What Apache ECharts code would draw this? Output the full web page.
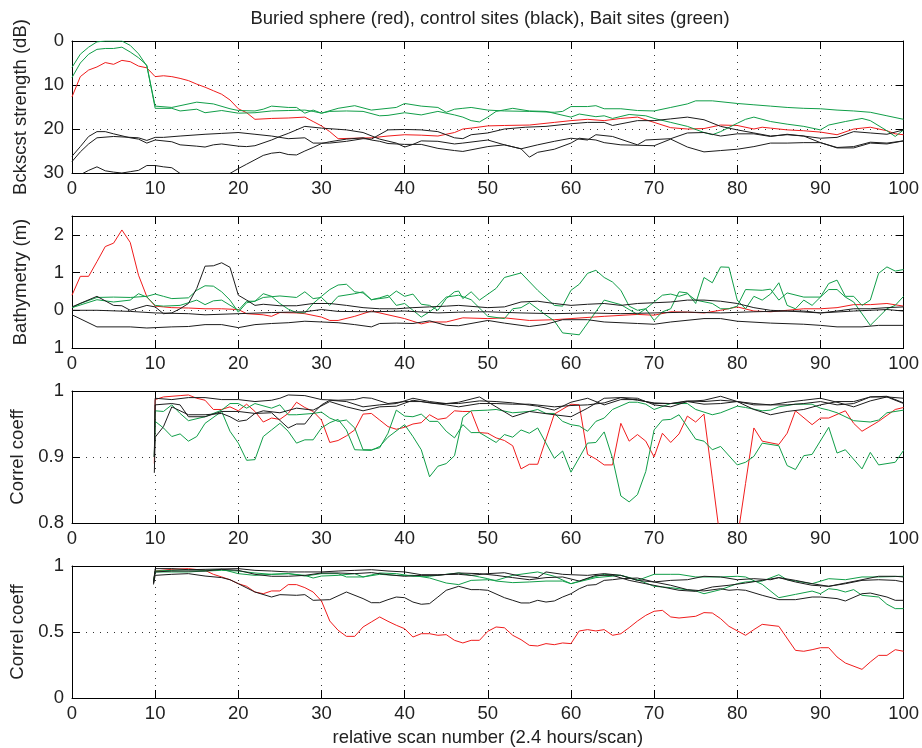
<!DOCTYPE html>
<html>
<head>
<meta charset="utf-8">
<script src="https://cdn.jsdelivr.net/npm/echarts@6/dist/echarts.min.js"></script>
<style>
  html, body { margin: 0; padding: 0; background: #fff; }
  #main { width: 922px; height: 748px; }
</style>
</head>
<body>
<div id="main"></div>
<script>
// ---- data: [scan number, value] ----

// panel 1: backscatter strength (dB)
const bsRed = [[0,12.7],[1,8.1],[2,6.6],[3,5.9],[4,4.9],[5,5.3],[6,4.4],[7,4.7],[8,5.7],[9,6.1],[10,8.1],[11,7.9],[12,8.1],[13,8.5],[14,9.0],[15,9.8],[16,10.5],[17,11.3],[18,12.1],[19,13.4],[20,15.4],[21,16.3],[22,17.8],[24,17.6],[26,17.5],[28,17.3],[29,18.3],[30,19.3],[31,20.6],[32,22.2],[34,22.1],[36,22.0],[38,21.6],[40,21.3],[42,21.4],[44,21.6],[46,20.8],[47,20.0],[48,19.8],[50,19.3],[52,19.2],[55,19.1],[58,18.5],[60,18.1],[62,17.8],[64,18.1],[66,17.6],[68,17.3],[70,18.5],[72,19.7],[74,20.0],[76,19.9],[78,19.1],[80,19.2],[82,20.0],[83,19.6],[84,19.8],[86,20.2],[88,20.4],[90,20.7],[92,21.3],[94,20.0],[96,19.6],[98,20.4],[99,21.1],[100,21.3]];
const bsGreenA = [[0,6.0],[1,3.0],[2,1.4],[3,0.2],[4,0],[5,0],[6,0],[7,1.0],[8,2.9],[9,5.7],[10,14.8],[12,15.1],[15,13.9],[17,14.3],[19,15.4],[20,15.8],[22,15.9],[23,15.5],[24,14.8],[26,15.1],[27,15.1],[28,16.4],[29,15.7],[30,16.4],[32,15.3],[34,14.7],[36,15.7],[38,15.3],[39,15.1],[40,14.2],[42,14.8],[44,15.1],[45,16.2],[46,15.5],[47,15.3],[48,15.1],[50,15.7],[52,15.9],[55,16.0],[58,16.2],[59,16.0],[60,14.9],[62,14.9],[63,14.7],[64,15.4],[66,15.4],[68,15.8],[70,15.9],[72,15.1],[74,14.3],[75,13.6],[77,13.6],[80,14.2],[82,14.5],[84,14.8],[86,15.1],[88,15.3],[90,15.4],[92,15.7],[94,15.9],[96,16.2],[98,17.0],[100,17.8]];
const bsGreenB = [[0,8.3],[1,5.0],[2,3.0],[3,1.9],[4,1.7],[5,1.7],[6,1.4],[7,2.5],[8,3.8],[9,5.5],[10,15.3],[12,15.3],[13,15.9],[15,15.5],[16,16.3],[18,15.8],[20,16.4],[22,16.3],[24,15.9],[26,15.8],[28,15.7],[29,16.0],[30,16.4],[31,16.0],[33,15.9],[35,16.0],[37,17.0],[38,16.9],[40,16.3],[42,16.8],[44,16.0],[46,16.8],[47,17.3],[48,18.1],[49,18.4],[50,17.3],[51,16.0],[53,15.3],[55,15.9],[57,16.0],[60,17.3],[61,16.6],[63,17.2],[64,17.0],[65,17.6],[67,16.7],[69,17.0],[70,17.6],[72,18.5],[74,19.4],[76,20.8],[77,21.3],[78,20.6],[80,18.7],[81,17.8],[82,17.3],[84,18.3],[86,18.9],[88,19.4],[90,20.2],[91,19.1],[93,18.3],[95,17.6],[96,18.1],[98,20.4],[99,21.7],[100,20.2]];
const bsBlack1 = [[0,26.2],[1,24.0],[2,21.7],[3,20.6],[4,20.6],[5,21.1],[7,22.0],[8,22.3],[9,23.2],[10,22.5],[12,22.9],[13,23.6],[15,23.9],[16,24.1],[17,23.6],[18,23.4],[20,23.9],[21,24.0],[22,23.8],[24,22.5],[25,21.7],[26,21.0],[27,20.2],[28,19.4],[30,19.8],[33,20.2],[35,20.8],[37,22.3],[39,23.2],[40,24.1],[41,23.5],[42,22.7],[44,22.8],[46,23.4],[47,23.2],[50,22.5],[52,23.6],[54,24.5],[56,23.6],[58,22.8],[60,22.1],[62,22.5],[63,21.3],[65,21.7],[68,23.6],[69,22.5],[72,22.2],[74,20.9],[76,20.8],[78,21.6],[80,21.1],[82,21.1],[84,21.7],[86,21.2],[88,21.6],[90,23.1],[92,24.2],[94,24.0],[96,23.0],[98,23.2],[100,22.7]];
const bsBlack2 = [[0,27.4],[1,25.2],[2,23.4],[3,22.0],[5,21.7],[8,22.0],[9,22.6],[10,21.9],[11,21.9],[13,21.6],[16,21.2],[18,21.0],[20,20.8],[22,21.2],[24,21.6],[26,22.2],[28,22.0],[29,23.2],[31,23.2],[33,22.8],[35,22.2],[36,22.3],[38,20.2],[40,20.1],[42,20.2],[44,20.6],[46,22.0],[47,22.2],[48,21.3],[50,20.9],[52,20.0],[54.5,19.6],[57,19.4],[60,18.8],[62,18.5],[64,18.5],[65,19.2],[68,18.1],[70,18.1],[72,17.7],[74,17.3],[76,17.9],[78,19.4],[80,20.2],[82,20.9],[84,21.6],[86,21.3],[88,21.6],[90,22.1],[92,21.9],[94,20.6],[96,20.9],[98,21.2],[100,20.2]];
const bsBlack3 = [[0,31],[1,30.4],[2,29.4],[3,28.6],[4,29.5],[5,29.8],[6,30],[7,29.7],[8,29.4],[9,28.3],[10,28.3],[11,28.6],[12,28.8],[13,30.1],[19,30.1],[20,29.0],[21,28.0],[22,27.0],[23,26.0],[24,25.5],[25,25.3],[26,25.8],[27,25.9],[28,25.0],[29,24.2],[30,23.3],[31,22.9],[32,22.6],[33,22.3],[35,22.0],[36,22.5],[37,22.8],[38,23.3],[40,23.5],[42,23.5],[44,24.4],[46,24.9],[47,25.1],[50,24.0],[52,23.6],[54,24.5],[55,26.4],[56,25.3],[58,24.6],[60,23.2],[61,22.1],[63,22.5],[64,23.1],[66,23.6],[68,23.7],[70,23.8],[72,22.3],[74,24.1],[76,25.2],[78,24.9],[80,24.6],[82,24.0],[84,23.2],[86,23.2],[88,23.1],[90,23.1],[92,24.3],[94,24.3],[96,23.2],[98,23.4],[100,22.7]];

// panel 2: bathymetry (m)
const bathRed = [[0,0.4],[1,0.9],[2,0.9],[3,1.29],[4,1.69],[5,1.78],[6,2.13],[7,1.8],[8,0.93],[9,0.36],[10,0.11],[11,0.09],[12,0.07],[14,0.06],[16,0.04],[18,0.04],[20,0.02],[21,-0.09],[23,-0.12],[24,-0.16],[25,-0.06],[27,-0.07],[28,-0.09],[30,-0.18],[31,-0.27],[32,-0.27],[34,-0.16],[36,-0.02],[38,-0.12],[40,-0.22],[42,-0.36],[43,-0.31],[45,-0.31],[47,-0.2],[50,-0.22],[52,-0.2],[55,-0.27],[58,-0.25],[60,-0.22],[64,-0.16],[68,-0.11],[70,-0.13],[72,-0.04],[74,-0.05],[76,-0.07],[78,0],[80,0.09],[82,-0.02],[84,-0.04],[86,0],[88,0.04],[90,0.04],[92,0.07],[94,0.15],[96,0.15],[98,0.18],[100,0.11]];
const bathGreenA = [[0,0.07],[1,0.18],[3,0.34],[5,0.35],[7,0.34],[9,0.37],[10,0.43],[11,0.37],[12,0.31],[14,0.33],[15,0.53],[16,0.65],[17,0.64],[18,0.49],[19,0.27],[20,-0.05],[21,0.2],[22,0.24],[23,0.44],[24,0.37],[25,0.18],[26,0.03],[27,-0.06],[28,-0.07],[29,0.18],[30,0.37],[31,0.55],[32,0.67],[33,0.69],[34,0.49],[35,0.46],[36,0.28],[37,0.33],[38,0.4],[39,0.13],[40,0.18],[41,0],[42,-0.18],[43,-0.04],[44,0.13],[45,0.35],[46.5,0.4],[48,0.28],[50,-0.16],[52,-0.22],[53,0.04],[54,0.07],[55,0.2],[57,-0.13],[58,-0.28],[59,-0.6],[61,-0.65],[64,0.27],[66,0.15],[67,0.02],[68,-0.11],[69,0.04],[71,0.4],[72,0.43],[73,0.37],[74,0.44],[75,0.27],[77,0.18],[78,0.04],[79,0.04],[80,0.11],[81,0.55],[83,0.53],[84,0.56],[85,0.27],[86,0.46],[88,0.35],[90,0.35],[91,0.55],[92,0.55],[93,0.35],[94,0.22],[96,-0.4],[97,-0.18],[98,0.04],[99,0.13],[100,0.37]];
const bathGreenB = [[0,0.07],[3,0.28],[5,0.22],[7,0.27],[8,0.44],[9,0.35],[10,0.13],[11,0.11],[13,0.13],[15,0.27],[16,0.15],[17,0.25],[18,0.27],[20,0],[21,0.24],[22,0.24],[23,0.34],[25,0.38],[27,0.34],[28,0.49],[29,0.31],[30,0.34],[31,0.13],[32,0.37],[34,0.44],[35,0.49],[36,0.28],[38,0.34],[39,0.51],[40,0.37],[41,0.43],[42,0.16],[43,0.13],[44,0],[45,0.31],[46,0.49],[46.5,0.51],[47,0.31],[48,0.49],[49,0.27],[51,0.58],[52,0.87],[54,0.99],[56,0.53],[58,0.13],[59,0.11],[60,0.53],[61,0.69],[62,0.98],[63,1.06],[64,0.87],[65,0.75],[66,0.53],[67,0.11],[68,0],[69,0.04],[70,-0.27],[71,-0.04],[72,0.04],[73,0.49],[74,0.46],[75,0.18],[76,0.87],[77,0.73],[78,1.15],[79,1.14],[80,0.27],[81,0.04],[82,0.37],[83,0.27],[84,0.43],[85,0.73],[86,0.13],[87,0.04],[88,0.27],[89,0.13],[90,0.35],[91,0.71],[92,0.8],[93,0.37],[94,0.37],[95,0.13],[96,0.27],[97,0.98],[98,1.15],[99,1.04],[100,1.08]];
const bathBlack1 = [[0,0.09],[3,0.37],[5,0.13],[6,0.12],[7,0],[9,0.13],[10,0.09],[11,-0.09],[12,-0.07],[13,0.04],[14,0.18],[15,0.58],[16,1.17],[17,1.18],[18,1.26],[19,1.14],[20,0.4],[21,0.27],[22,0.13],[23,0.16],[25,0.12],[27,0.12],[29,0.18],[31,0.18],[33,0.13],[35,0.07],[37,0.04],[39,0.04],[41,0.07],[43,0.09],[45,0.11],[46.5,0.13],[50,0.07],[52,0.09],[54,0.22],[56,0.24],[58,0.18],[60,0.13],[62,0.16],[64,0.18],[66,0.13],[68,0.18],[70,0.2],[72,0.22],[74,0.27],[76,0.27],[78,0.24],[80,0.18],[82,0.07],[84,0],[86,-0.02],[88,-0.02],[90,-0.07],[92,-0.02],[94,0.04],[96,0.04],[98,0.07],[100,0.09]];
const bathBlack2 = [[0,0],[3,0],[7,-0.03],[10,-0.07],[14,-0.09],[16,-0.12],[20,-0.09],[24,-0.06],[28,-0.04],[30,0.02],[32,-0.03],[36,-0.04],[40,-0.02],[44,-0.07],[46.5,-0.05],[50,-0.04],[54,-0.07],[58,-0.09],[62,-0.07],[66,-0.09],[70,-0.07],[74,-0.05],[78,-0.07],[82,-0.04],[86,-0.02],[90,-0.07],[94,-0.02],[98,0.02],[100,-0.02]];
const bathBlack3 = [[0,-0.12],[3,-0.44],[7,-0.44],[9,-0.47],[12,-0.44],[14,-0.43],[16,-0.38],[18,-0.38],[20,-0.46],[22,-0.38],[24,-0.35],[26,-0.33],[28,-0.29],[30,-0.31],[32,-0.33],[34,-0.38],[36,-0.44],[37,-0.35],[39,-0.34],[41,-0.35],[43,-0.28],[45,-0.4],[46.5,-0.41],[50,-0.27],[52,-0.34],[55,-0.43],[57,-0.37],[59,-0.25],[62,-0.25],[64,-0.31],[68,-0.35],[70,-0.37],[72,-0.31],[76,-0.22],[78,-0.22],[80,-0.29],[84,-0.34],[88,-0.37],[90,-0.4],[92,-0.44],[95,-0.44],[97,-0.4],[100,-0.4]];

// panel 3: correlation coefficient (fine scale)
const ccRed = [[9.9,0.89],[10,0.987],[11,0.991],[13,0.993],[14,0.994],[15,0.989],[16,0.986],[17,0.972],[18,0.972],[19,0.976],[20,0.97],[21,0.98],[22,0.969],[23,0.953],[24,0.959],[25,0.957],[26,0.966],[27,0.983],[28,0.975],[29,0.969],[30,0.956],[31,0.922],[32,0.925],[33,0.932],[34,0.941],[35,0.965],[36,0.966],[37,0.956],[38,0.946],[39,0.942],[40,0.945],[41,0.95],[42,0.952],[43,0.964],[44,0.957],[45,0.959],[46,0.97],[47,0.969],[48,0.969],[49,0.937],[50,0.936],[51,0.929],[52,0.925],[53,0.917],[54,0.882],[55,0.889],[56,0.889],[58,0.965],[60,0.98],[61,0.979],[62,0.904],[63,0.897],[64,0.888],[65,0.888],[66,0.951],[67,0.924],[68,0.934],[69,0.924],[70,0.9],[71,0.936],[72,0.922],[73,0.935],[74,0.962],[75,0.953],[76,0.965],[77,0.868],[78,0.77],[79,0.7],[80,0.775],[81,0.86],[82,0.944],[83,0.924],[85,0.919],[86,0.936],[87,0.97],[89,0.949],[90,0.959],[91,0.959],[93,0.97],[94,0.951],[95,0.939],[97,0.954],[99,0.972],[100,0.975]];
const ccGreenA = [[9.9,0.9],[10,0.97],[11,0.969],[12,0.979],[13,0.966],[14,0.955],[16,0.961],[18,0.971],[19,0.981],[20,0.981],[21,0.974],[22,0.981],[24,0.974],[25,0.979],[26,0.964],[27,0.964],[29,0.966],[30,0.968],[31,0.959],[32,0.954],[33,0.956],[34,0.944],[35,0.911],[36,0.911],[37,0.914],[38,0.936],[39,0.971],[40,0.962],[41,0.961],[42,0.965],[43,0.954],[44,0.954],[45,0.939],[46,0.929],[47,0.949],[48,0.937],[49,0.937],[51,0.922],[52,0.934],[53,0.93],[54,0.941],[55,0.936],[56,0.944],[58,0.898],[59,0.909],[60,0.877],[62,0.921],[63,0.922],[64,0.938],[65,0.898],[66,0.841],[67,0.832],[68,0.843],[69,0.878],[70,0.941],[71,0.956],[72,0.957],[73,0.964],[75,0.927],[76,0.924],[77,0.911],[78,0.916],[80,0.888],[81,0.892],[82,0.901],[83,0.921],[85,0.917],[86,0.887],[87,0.881],[88,0.902],[89,0.904],[91,0.945],[92,0.906],[93,0.911],[95,0.882],[96,0.907],[97,0.888],[99,0.892],[100,0.91]];
const ccGreenB = [[9.9,0.9],[10,0.954],[11,0.944],[12,0.931],[13,0.935],[14,0.924],[15,0.931],[16,0.951],[18,0.969],[19,0.939],[20,0.921],[21,0.895],[22,0.896],[23,0.931],[24,0.941],[25,0.951],[26,0.939],[27,0.921],[28,0.926],[29,0.926],[30,0.944],[31,0.952],[32,0.957],[33,0.941],[34,0.911],[36,0.91],[37,0.916],[38,0.93],[40,0.949],[41,0.931],[42,0.911],[43,0.87],[44,0.886],[45,0.89],[46,0.902],[47,0.96],[48,0.97],[50,0.971],[51,0.972],[53,0.967],[55,0.969],[56,0.972],[57,0.966],[58,0.966],[59,0.954],[60,0.949],[61,0.947],[62,0.939],[63,0.954],[64,0.959],[65,0.972],[67,0.983],[68,0.983],[69,0.98],[70,0.972],[72,0.981],[73,0.981],[74,0.981],[75,0.972],[77,0.964],[78,0.967],[80,0.977],[81,0.975],[83,0.97],[84,0.971],[85,0.976],[87,0.98],[89,0.98],[90,0.974],[91,0.971],[92,0.967],[94,0.955],[96,0.953],[97,0.956],[98,0.967],[100,0.971]];
const ccBlack1 = [[9.9,0.876],[10,0.93],[11,0.946],[12,0.976],[14,0.964],[16,0.964],[18,0.966],[19,0.961],[20,0.954],[21,0.956],[22,0.966],[24,0.967],[26,0.944],[27,0.95],[28,0.95],[29,0.966],[30,0.979],[31,0.986],[33,0.984],[35,0.976],[37,0.979],[39,0.981],[41,0.989],[43,0.984],[45,0.981],[46.5,0.983],[49,0.991],[51,0.976],[53,0.961],[55,0.969],[58,0.964],[60,0.961],[62,0.974],[64,0.989],[66,0.99],[68,0.986],[70,0.982],[72,0.981],[74,0.985],[76,0.984],[78,0.986],[80,0.984],[82,0.972],[84,0.964],[86,0.969],[88,0.972],[90,0.979],[92,0.984],[94,0.984],[96,0.991],[98,0.992],[100,0.982]];
const ccBlack2 = [[9.9,0.9],[10,0.989],[12,0.987],[14,0.99],[16,0.99],[18,0.987],[20,0.987],[22,0.984],[24,0.986],[25,0.989],[26,0.994],[28,0.993],[30,0.987],[32,0.986],[34,0.987],[35,0.99],[36,0.989],[38,0.981],[40,0.984],[42,0.984],[44,0.981],[46.5,0.981],[49,0.985],[51,0.984],[53,0.982],[56,0.977],[58,0.971],[60,0.983],[62,0.989],[64,0.979],[66,0.987],[68,0.987],[70,0.981],[72,0.981],[74,0.984],[76,0.986],[78,0.992],[80,0.984],[82,0.979],[84,0.979],[86,0.983],[88,0.986],[90,0.989],[92,0.983],[94,0.976],[96,0.985],[98,0.991],[100,0.989]];
const ccBlack3 = [[9.9,0.9],[10,0.979],[12,0.981],[13,0.979],[14,0.961],[16,0.961],[18,0.969],[20,0.969],[22,0.966],[23,0.97],[25,0.967],[27,0.974],[29,0.971],[31,0.984],[33,0.976],[35,0.97],[37,0.976],[39,0.977],[41,0.986],[43,0.982],[45,0.979],[46.5,0.976],[49,0.981],[51,0.981],[53,0.98],[55,0.98],[58,0.976],[60,0.978],[62,0.979],[64,0.982],[66,0.99],[68,0.989],[70,0.979],[72,0.976],[74,0.984],[76,0.98],[78,0.981],[80,0.984],[82,0.981],[84,0.979],[86,0.979],[88,0.981],[90,0.984],[92,0.979],[94,0.981],[96,0.991],[98,0.991],[100,0.981]];

// panel 4: correlation coefficient (full scale)
const cfRed = [[9.8,0.88],[10,0.962],[12,0.975],[14,0.98],[16,0.967],[17,0.937],[18,0.917],[19,0.896],[20,0.866],[21,0.846],[22,0.803],[23,0.79],[24,0.811],[25,0.811],[26,0.859],[27,0.859],[28,0.836],[29,0.803],[30,0.735],[31,0.583],[32,0.513],[33,0.467],[34,0.467],[35,0.538],[36,0.576],[37,0.614],[38,0.581],[39,0.551],[40,0.525],[41,0.462],[42,0.487],[43,0.487],[44,0.475],[45,0.48],[46,0.437],[47,0.417],[48,0.437],[49,0.437],[50,0.505],[51,0.538],[52,0.532],[53,0.475],[54,0.442],[55,0.399],[56,0.394],[57,0.412],[58,0.404],[59,0.417],[60,0.412],[61,0.508],[62,0.518],[63,0.508],[64,0.518],[65,0.475],[66,0.487],[67,0.533],[68,0.583],[69,0.626],[70,0.657],[71,0.664],[72,0.614],[73,0.606],[75,0.619],[76,0.647],[77,0.644],[78,0.601],[79,0.543],[81,0.475],[82,0.518],[83,0.558],[85,0.543],[87,0.361],[88,0.354],[89,0.366],[90,0.381],[91,0.381],[92,0.311],[93,0.265],[95,0.217],[96,0.273],[97,0.323],[98,0.323],[99,0.366],[100,0.354]];
const cfGreenA = [[9.8,0.88],[10,0.962],[12,0.967],[14,0.972],[16,0.967],[18,0.975],[20,0.942],[22,0.929],[24,0.937],[26,0.942],[28,0.929],[29,0.909],[30,0.924],[32,0.929],[34,0.942],[35,0.917],[37,0.937],[39,0.929],[41,0.929],[43,0.909],[45,0.871],[46.5,0.859],[48,0.891],[50,0.896],[51,0.891],[53,0.929],[56,0.955],[58,0.922],[60,0.866],[63,0.912],[66,0.929],[68,0.891],[70,0.937],[72,0.937],[73,0.937],[75,0.917],[78,0.917],[80,0.922],[81,0.917],[83,0.861],[85,0.76],[87,0.785],[89,0.81],[90,0.79],[91,0.828],[92,0.821],[93,0.803],[94,0.821],[95,0.778],[97,0.765],[98,0.71],[99,0.677],[100,0.677]];
const cfGreenB = [[9.8,0.88],[10,0.955],[12,0.955],[14,0.955],[16,0.962],[18,0.967],[20,0.962],[22,0.947],[24,0.937],[26,0.942],[28,0.924],[30,0.942],[32,0.942],[33,0.917],[35,0.917],[37,0.947],[39,0.942],[41,0.922],[43,0.922],[45,0.937],[46.5,0.947],[49,0.917],[50,0.904],[51,0.886],[53,0.874],[55,0.879],[57,0.886],[59,0.886],[60,0.866],[62,0.904],[64,0.937],[66,0.929],[68,0.896],[70,0.846],[72,0.836],[75,0.811],[76,0.79],[78,0.821],[80,0.866],[81,0.879],[83,0.886],[85,0.934],[86,0.896],[89,0.866],[91,0.904],[93,0.896],[95,0.917],[97,0.917],[100,0.922]];
const cfBlack1 = [[9.8,0.86],[10,0.929],[12,0.937],[14,0.942],[16,0.924],[18,0.912],[19,0.896],[20,0.866],[22,0.803],[24,0.765],[25,0.783],[27,0.778],[28,0.783],[29,0.74],[31,0.745],[33,0.803],[35,0.753],[36,0.722],[37,0.722],[38,0.745],[39,0.765],[40,0.76],[41,0.727],[42,0.71],[43,0.715],[44,0.765],[45,0.816],[46.5,0.846],[48,0.821],[49,0.821],[50,0.816],[52,0.76],[53,0.74],[54,0.72],[55,0.72],[56,0.74],[57,0.727],[58,0.735],[59,0.765],[60,0.79],[61,0.828],[62,0.854],[63,0.859],[64,0.891],[65,0.896],[66,0.904],[68,0.909],[70,0.879],[72,0.854],[74,0.821],[76,0.811],[78,0.828],[79,0.816],[80,0.821],[81,0.816],[83,0.778],[85,0.745],[87,0.745],[89,0.765],[90,0.765],[92,0.753],[93,0.735],[95,0.79],[96,0.795],[98,0.765],[99,0.74],[100,0.74]];
const cfBlack2 = [[9.8,0.87],[10,0.98],[12,0.98],[14,0.972],[16,0.975],[20,0.98],[22,0.967],[24,0.962],[26,0.955],[28,0.955],[30,0.955],[32,0.962],[34,0.967],[36,0.972],[38,0.962],[40,0.955],[42,0.934],[44,0.934],[46.5,0.937],[48,0.929],[50,0.942],[52,0.949],[54,0.922],[56,0.912],[57,0.955],[59,0.937],[60,0.934],[62,0.929],[64,0.942],[66,0.929],[68,0.891],[70,0.879],[72,0.891],[74,0.896],[76,0.922],[78,0.917],[80,0.896],[82,0.904],[84,0.896],[85,0.912],[87,0.891],[89,0.866],[91,0.846],[93,0.871],[95,0.896],[97,0.922],[99,0.922],[100,0.917]];
const cfBlack3 = [[9.8,0.87],[10,0.955],[12,0.962],[16,0.962],[18,0.975],[20,0.967],[22,0.937],[24,0.922],[26,0.922],[28,0.929],[30,0.947],[32,0.947],[34,0.942],[36,0.95],[38,0.934],[40,0.922],[42,0.929],[44,0.929],[46.5,0.947],[49,0.942],[51,0.929],[53,0.912],[55,0.896],[57,0.912],[59,0.917],[61,0.886],[63,0.929],[65,0.929],[67,0.891],[69,0.866],[71,0.841],[73,0.816],[75,0.808],[77,0.841],[79,0.854],[81,0.871],[83,0.891],[85,0.912],[87,0.879],[89,0.854],[91,0.846],[93,0.866],[95,0.891],[97,0.896],[99,0.891],[100,0.879]];

const RED = '#f01c1c', GREEN = '#109e48', BLACK = '#1c1c1c';
const FONT = '"Liberation Sans", Arial, Helvetica, sans-serif';
const FS = 18.5;
const TXT = '#222';

// panel layout (pixels)
const gridTops = [41, 216, 391, 566];
const panelH = 132;

const yDefs = [
  { min: 0, max: 30, interval: 10, inverse: true, name: 'Bckscst strength (dB)' },
  { min: -1, max: 2.5, interval: 1, name: 'Bathymetry (m)', fmt: v => String(Math.abs(v)) },
  { min: 0.8, max: 1, interval: 0.1, name: 'Correl coeff' },
  { min: 0, max: 1, interval: 0.5, name: 'Correl coeff' }
];

const panels = [
  [[bsRed, RED], [bsGreenA, GREEN], [bsGreenB, GREEN], [bsBlack1, BLACK], [bsBlack2, BLACK], [bsBlack3, BLACK]],
  [[bathRed, RED], [bathGreenA, GREEN], [bathGreenB, GREEN], [bathBlack1, BLACK], [bathBlack2, BLACK], [bathBlack3, BLACK]],
  [[ccRed, RED], [ccGreenA, GREEN], [ccGreenB, GREEN], [ccBlack1, BLACK], [ccBlack2, BLACK], [ccBlack3, BLACK]],
  [[cfRed, RED], [cfGreenA, GREEN], [cfGreenB, GREEN], [cfBlack1, BLACK], [cfBlack2, BLACK], [cfBlack3, BLACK]]
];

const tick = { show: true, inside: true, length: 8, lineStyle: { color: '#000', width: 1 } };
const axLine = { show: true, onZero: false, lineStyle: { color: '#000', width: 1 } };
const dotted = { show: true, lineStyle: { color: '#333', width: 1, type: [1, 6] } };

const grids = [], xAxes = [], yAxes = [], series = [];

gridTops.forEach((top, i) => {
  grids.push({ left: 72, right: 16, top: top, height: panelH, containLabel: false });

  // bottom x axis with labels
  const xb = {
    type: 'value', gridIndex: i, position: 'bottom', min: 0, max: 100, interval: 10,
    axisLine: axLine, axisTick: tick, splitLine: dotted,
    axisLabel: { fontSize: FS, fontFamily: FONT, color: TXT, margin: 6 }
  };
  if (i === 3) {
    xb.name = 'relative scan number (2.4 hours/scan)';
    xb.nameLocation = 'middle';
    xb.nameGap = 30;
    xb.nameTextStyle = { fontSize: FS, fontFamily: FONT, color: TXT };
  }
  xAxes.push(xb);
  // top x axis (frame + inward ticks)
  xAxes.push({
    type: 'value', gridIndex: i, position: 'top', min: 0, max: 100, interval: 10,
    axisLine: axLine, axisTick: tick, splitLine: { show: false }, axisLabel: { show: false }
  });

  const d = yDefs[i];
  yAxes.push({
    type: 'value', gridIndex: i, position: 'left', min: d.min, max: d.max, interval: d.interval,
    inverse: !!d.inverse,
    axisLine: axLine, axisTick: tick, splitLine: dotted,
    axisLabel: { fontSize: FS, fontFamily: FONT, color: TXT, margin: 8, showMaxLabel: i !== 1, formatter: d.fmt },
    name: d.name, nameLocation: 'middle', nameGap: 42, nameRotate: 90,
    nameTextStyle: { fontSize: FS, fontFamily: FONT, color: TXT }
  });
  yAxes.push({
    type: 'value', gridIndex: i, position: 'right', min: d.min, max: d.max, interval: d.interval,
    inverse: !!d.inverse,
    axisLine: axLine, axisTick: tick, splitLine: { show: false }, axisLabel: { show: false }
  });

  panels[i].forEach(([data, color]) => {
    series.push({
      type: 'line', xAxisIndex: i * 2, yAxisIndex: i * 2, data: data,
      symbol: 'none', clip: true, silent: true,
      lineStyle: { color: color, width: 1 }
    });
  });
});

const chart = echarts.init(document.getElementById('main'), null, { renderer: 'canvas' });
chart.setOption({
  animation: false,
  backgroundColor: '#fff',
  graphic: [{
    type: 'text', x: 490, y: 19,
    style: {
      text: 'Buried sphere (red), control sites (black), Bait sites (green)',
      font: FS + 'px ' + FONT, fill: TXT, textAlign: 'center', textVerticalAlign: 'middle'
    }
  }],
  grid: grids,
  xAxis: xAxes,
  yAxis: yAxes,
  series: series
});
</script>
</body>
</html>
